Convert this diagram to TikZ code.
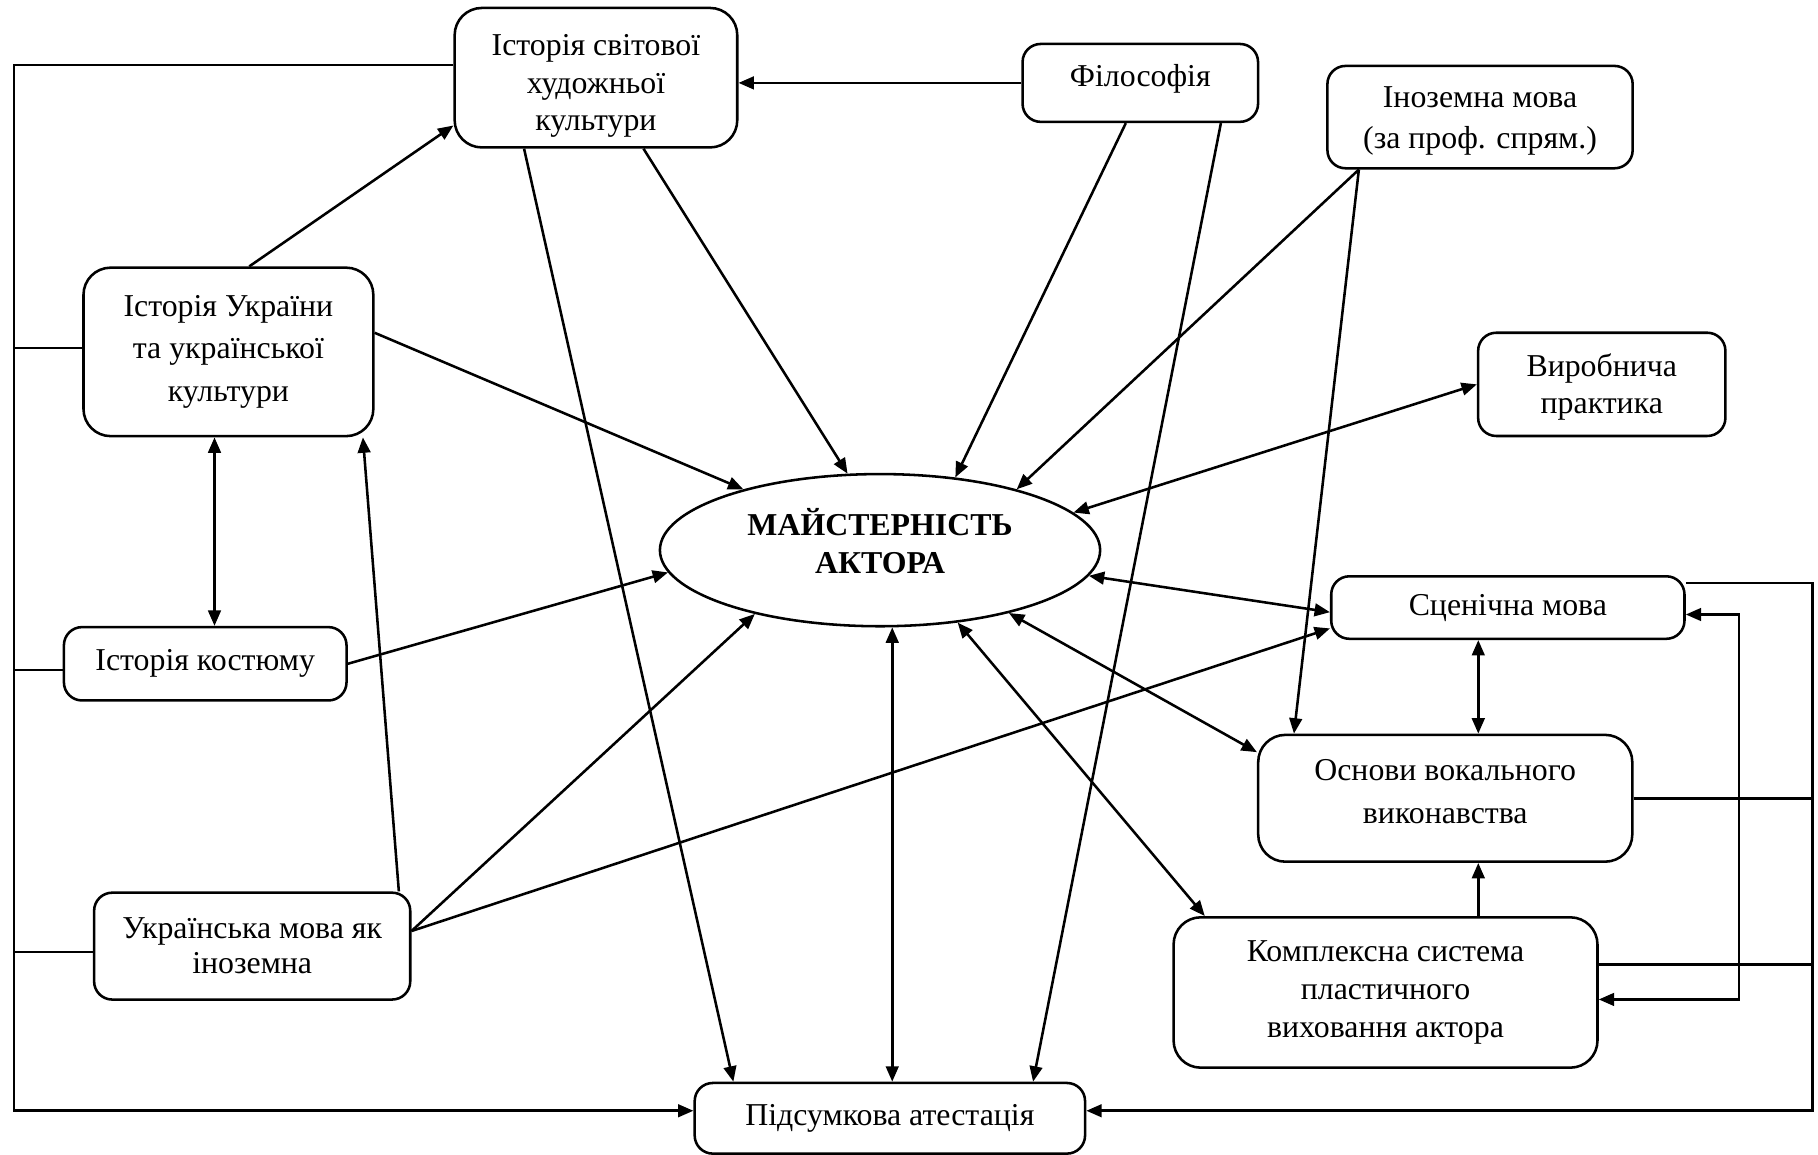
\documentclass[tikz,border=0pt]{standalone}
\usepackage{fontspec}
\setmainfont{Liberation Serif}
\usetikzlibrary{arrows.meta,shapes.geometric}

\begin{document}
\begin{tikzpicture}[x=0.128mm, y=-0.128mm, line width=0.8pt,
  >={Triangle[length=1.7mm,width=1.4mm]},
  box/.style={draw, rounded corners=2mm, align=center, inner sep=0pt, font=\fontsize{10}{12}\selectfont},
  lsk/.style={font=\fontsize{10}{#1}\selectfont}]
\useasboundingbox (0,0) rectangle (1568,996); % cadre de l'image

% les disciplines
\node[box, lsk=11.8pt, rounded corners=3mm, minimum width=31.2mm, minimum height=15.4mm] (hw) at (514,67) {\rule{0pt}{4.2mm}Історія світової\\художньої\\культури};
\node[box, minimum width=26mm, minimum height=8.6mm] (ph) at (983.5,71.5) {Філософія\rule[-1.55mm]{0pt}{1mm}};
\node[box, lsk=12.8pt, minimum width=33.7mm, minimum height=11.3mm] (fo) at (1276.5,101) {\rule{0pt}{3.2mm}Іноземна мова\\(за проф. спрям.)};
\node[box, lsk=11.8pt, minimum width=27.3mm, minimum height=11.4mm] (pr) at (1381.5,331.5) {\rule{0pt}{3.1mm}Виробнича\\практика};
\node[box, lsk=13.3pt, rounded corners=3mm, minimum width=32mm, minimum height=18.6mm] (hu) at (197,303.5) {Історія України\\та української\\культури};
\node[box, minimum width=31.2mm, minimum height=8.1mm] (co) at (177,572.5) {Історія костюму};
\node[box, lsk=11pt, minimum width=34.9mm, minimum height=11.8mm] (ul) at (217.5,816) {Українська мова як\\іноземна};
\node[draw, ellipse, align=center, inner sep=0pt, minimum width=48.6mm, minimum height=16.8mm,
  font=\fontsize{10}{11.7}\selectfont\bfseries] (ell) at (759,474.5) {МАЙСТЕРНІСТЬ\\АКТОРА\rule[-2.05mm]{0pt}{1mm}};
\node[box, minimum width=39mm, minimum height=6.9mm] (st) at (1300.5,524) {Сценічна мова};
\node[box, lsk=13.5pt, rounded corners=3mm, minimum width=41.3mm, minimum height=14mm] (vo) at (1246.5,688.5) {Основи вокального\\виконавства\rule[-1.4mm]{0pt}{1mm}};
\node[box, lsk=11.8pt, rounded corners=3mm, minimum width=46.8mm, minimum height=16.6mm] (pl) at (1195,856) {Комплексна система\\пластичного\\виховання актора};
\node[box, minimum width=43.1mm, minimum height=7.8mm] (fin) at (767.5,964.5) {Підсумкова атестація};

% cadre gauche
\coordinate (lft) at (12,958);
\draw[->] ([shift={(0,-11)}]hw.west) -| (lft) -- ([shift={(0,-6.5)}]fin.west);
\draw ([shift={(0,-3.5)}]hu.west) -- ([shift={(0,-3.5)}]hu.west -| lft);
\draw ([shift={(0,5.5)}]co.west) -- ([shift={(0,5.5)}]co.west -| lft);
\draw ([shift={(0,5)}]ul.west) -- ([shift={(0,5)}]ul.west -| lft);

% cadre droit
\coordinate (rgt) at (1563,958);
\draw[->] ([shift={(0,-21)}]st.east) -| (rgt) -- ([shift={(0,-6.5)}]fin.east);
\draw (vo.east) -- (vo.east -| rgt);
\draw ([shift={(0,-24)}]pl.east) -- ([shift={(0,-24)}]pl.east -| rgt);
\coordinate (inr) at (1500,862);
\draw[<->] ([shift={(0,6)}]st.east) -| (inr) -- ([shift={(0,6)}]pl.east);

% liaisons
\draw[->] (ph.west) -- (ph.west -| hw.east);
\draw[->] ([shift={(18,0)}]hu.north) -- ([shift={(0,-20)}]hw.south west);
\draw[->] ([shift={(41,0)}]hw.south) -- (ell.113.5);
\draw[->] ([shift={(-62,0)}]hw.south) -- ([shift={(-135,0)}]fin.north);
\draw[->] ([shift={(-12.5,0)}]ph.south) -- (ell.44.4);
\draw[->] ([shift={(69.5,0)}]ph.south) -- ([shift={(123.5,0)}]fin.north);
\draw[->] ([shift={(-104.5,0)}]fo.south) -- (ell.24.5);
\draw[->] ([shift={(-104.5,0)}]fo.south) -- ([shift={(-130.5,0)}]vo.north);
\draw[<->] (pr.west) -- (ell.11.9);
\draw[->] ([shift={(0,-16.5)}]hu.east) -- (ell.156.6);
\draw[<->] ([shift={(-12,0)}]hu.south) -- ([shift={(-12,0)}]hu.south |- co.north);
\draw[->] ([shift={(126.5,0)}]ul.north) -- ([shift={(116,0)}]hu.south);
\draw[->] (co.east) -- (ell.186.9);
\draw[->] ([shift={(0,-13)}]ul.east) -- (ell.207.9);
\draw[->] ([shift={(0,-13)}]ul.east) -- ([shift={(0,18)}]st.west);
\draw[<->] (ell.353.5) -- ([shift={(0,4)}]st.west);
\draw[<->] (ell.334.9) -- ([shift={(0,16)}]vo.north west);
\draw[<->] (ell.317.9) -- ([shift={(28,0)}]pl.north west);
\draw[<->] (ell.279.1) -- (ell.279.1 |- fin.north);
\draw[<->] ([shift={(-25.5,0)}]st.south) -- ([shift={(-25.5,0)}]st.south |- vo.north);
\draw[->] ([shift={(80,0)}]pl.north) -- ([shift={(80,0)}]pl.north |- vo.south);
\end{tikzpicture}
\end{document}
